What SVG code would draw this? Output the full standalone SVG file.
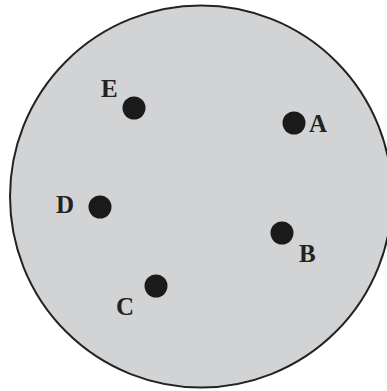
<svg xmlns="http://www.w3.org/2000/svg" width="387" height="391" viewBox="0 0 387 391">
<style>
.dot{fill:#1a1a1a}
.lbl{font-family:"Liberation Serif",serif;font-weight:bold;font-size:25px;fill:#222}
</style>
<rect width="387" height="391" fill="#ffffff"/>
<circle cx="201" cy="196.5" r="191" fill="#d2d3d5" stroke="#222" stroke-width="2"/>
<g id="A"><circle class="dot" cx="294" cy="123" r="11.5"/><text class="lbl" x="309" y="132">A</text></g>
<g id="B"><circle class="dot" cx="282" cy="233" r="11.5"/><text class="lbl" x="299" y="262">B</text></g>
<g id="C"><circle class="dot" cx="156" cy="286" r="11.5"/><text class="lbl" x="116" y="315">C</text></g>
<g id="D"><circle class="dot" cx="100" cy="207" r="11.5"/><text class="lbl" x="56" y="213">D</text></g>
<g id="E"><circle class="dot" cx="134" cy="108" r="11.5"/><text class="lbl" x="101" y="97">E</text></g>
<g id="connectors"/>
</svg>
